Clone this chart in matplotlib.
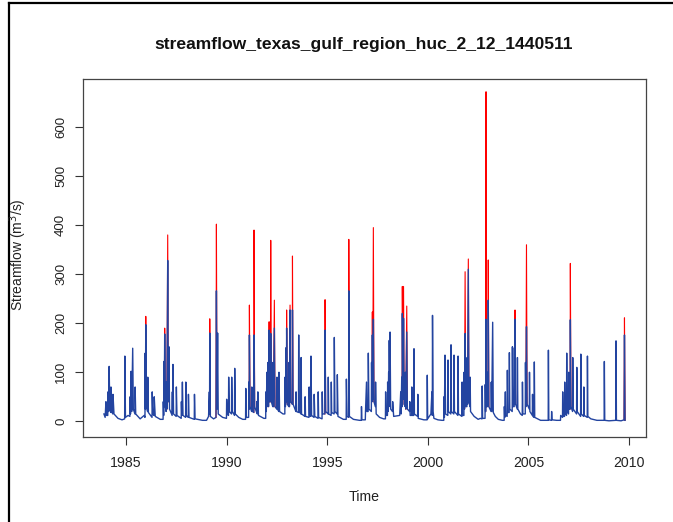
import matplotlib
matplotlib.use("Agg")
import matplotlib.pyplot as plt
from matplotlib.lines import Line2D
import numpy as np

plt.rcParams['font.family'] = ['Liberation Sans', 'DejaVu Sans']

series_points = [
    (1983.90, 15, 15), (1983.96, 8, 8), (1984.00, 40, 40), (1984.03, 12, 12),
    (1984.09, 12, 12), (1984.10, 60, 60), (1984.13, 20, 20), (1984.16, 112, 112),
    (1984.19, 25, 25), (1984.24, 18, 18), (1984.25, 70, 70), (1984.28, 20, 20),
    (1984.34, 15, 15), (1984.35, 55, 55), (1984.40, 15, 15), (1984.60, 6, 6),
    (1984.80, 3, 3), (1984.93, 5, 5), (1984.94, 133, 133), (1984.97, 8, 8),
    (1985.10, 12, 12), (1985.19, 10, 10), (1985.20, 50, 50), (1985.22, 15, 15),
    (1985.25, 102, 102), (1985.28, 20, 20), (1985.33, 149, 149), (1985.36, 25, 25),
    (1985.44, 15, 15), (1985.45, 70, 70), (1985.48, 15, 15), (1985.70, 5, 5),
    (1985.90, 12, 12), (1985.94, 8, 8), (1985.95, 139, 139), (1985.96, 25, 25),
    (1985.98, 197, 214), (1986.01, 30, 30), (1986.07, 20, 20), (1986.08, 90, 90),
    (1986.11, 18, 18), (1986.29, 8, 8), (1986.30, 60, 60), (1986.33, 15, 15),
    (1986.39, 12, 12), (1986.40, 50, 50), (1986.45, 10, 10), (1986.70, 4, 4),
    (1986.84, 4, 4), (1986.85, 40, 40), (1986.87, 12, 12), (1986.88, 122, 122),
    (1986.90, 30, 30), (1986.92, 178, 190), (1986.95, 30, 30), (1986.99, 20, 20),
    (1987.00, 80, 80), (1987.03, 25, 25), (1987.07, 328, 380), (1987.10, 40, 40),
    (1987.13, 152, 152), (1987.16, 25, 25), (1987.29, 12, 12), (1987.30, 60, 60),
    (1987.31, 20, 20), (1987.33, 116, 116), (1987.36, 15, 15), (1987.49, 10, 10),
    (1987.50, 70, 70), (1987.53, 12, 12), (1987.74, 6, 6), (1987.75, 40, 40),
    (1987.77, 12, 12), (1987.80, 80, 80), (1987.83, 12, 12), (1987.96, 8, 8),
    (1987.97, 80, 80), (1987.99, 12, 12), (1988.09, 8, 8), (1988.10, 55, 55),
    (1988.13, 8, 8), (1988.39, 4, 4), (1988.40, 55, 55), (1988.43, 5, 5),
    (1988.80, 2, 2), (1989.00, 2, 2), (1989.10, 10, 10), (1989.14, 60, 60),
    (1989.15, 15, 15), (1989.16, 180, 209), (1989.19, 10, 10), (1989.35, 5, 5),
    (1989.47, 8, 8), (1989.49, 266, 402), (1989.52, 25, 25), (1989.55, 180, 180),
    (1989.58, 15, 15), (1989.80, 8, 8), (1989.99, 6, 6), (1990.00, 45, 45),
    (1990.03, 15, 15), (1990.09, 12, 12), (1990.10, 90, 90), (1990.13, 20, 20),
    (1990.24, 15, 15), (1990.25, 90, 90), (1990.28, 20, 20), (1990.39, 12, 12),
    (1990.40, 108, 108), (1990.43, 15, 15), (1990.60, 8, 8), (1990.80, 4, 4),
    (1990.94, 4, 4), (1990.95, 67, 67), (1990.98, 8, 8), (1991.09, 8, 8),
    (1991.10, 80, 80), (1991.12, 25, 25), (1991.13, 176, 237), (1991.16, 30, 30),
    (1991.24, 20, 20), (1991.25, 70, 70), (1991.28, 20, 20), (1991.35, 18, 18),
    (1991.36, 176, 390), (1991.39, 30, 30), (1991.49, 18, 18), (1991.50, 40, 40),
    (1991.52, 15, 15), (1991.55, 60, 60), (1991.58, 12, 12), (1991.85, 6, 6),
    (1991.94, 6, 6), (1991.95, 60, 60), (1991.97, 20, 20), (1992.00, 100, 100),
    (1992.02, 30, 30), (1992.05, 120, 120), (1992.08, 30, 30), (1992.11, 186, 203),
    (1992.13, 40, 40), (1992.15, 140, 140), (1992.17, 40, 40), (1992.19, 179, 369),
    (1992.22, 40, 40), (1992.29, 30, 30), (1992.30, 120, 120), (1992.32, 30, 30),
    (1992.37, 190, 247), (1992.40, 30, 30), (1992.49, 25, 25), (1992.50, 90, 90),
    (1992.52, 25, 25), (1992.59, 20, 20), (1992.60, 100, 100), (1992.63, 20, 20),
    (1992.80, 15, 15), (1992.89, 15, 15), (1992.90, 90, 90), (1992.92, 30, 30),
    (1992.95, 150, 150), (1992.97, 40, 40), (1992.98, 190, 227), (1993.01, 35, 35),
    (1993.09, 30, 30), (1993.10, 120, 120), (1993.12, 30, 30), (1993.15, 227, 237),
    (1993.18, 40, 40), (1993.26, 35, 35), (1993.27, 227, 337), (1993.30, 35, 35),
    (1993.44, 20, 20), (1993.45, 60, 60), (1993.47, 20, 20), (1993.57, 18, 18),
    (1993.58, 176, 176), (1993.60, 20, 20), (1993.69, 15, 15), (1993.70, 130, 130),
    (1993.72, 15, 15), (1993.89, 10, 10), (1993.90, 50, 50), (1993.92, 10, 10),
    (1994.09, 8, 8), (1994.10, 70, 70), (1994.12, 12, 12), (1994.18, 10, 10),
    (1994.19, 133, 133), (1994.22, 12, 12), (1994.34, 8, 8), (1994.35, 55, 55),
    (1994.38, 10, 10), (1994.54, 6, 6), (1994.55, 60, 60), (1994.57, 8, 8),
    (1994.74, 5, 5), (1994.75, 60, 60), (1994.77, 15, 15), (1994.88, 15, 15),
    (1994.89, 186, 248), (1994.92, 20, 20), (1995.04, 15, 15), (1995.05, 90, 90),
    (1995.07, 15, 15), (1995.19, 12, 12), (1995.20, 80, 80), (1995.22, 18, 18),
    (1995.34, 15, 15), (1995.35, 171, 171), (1995.38, 20, 20), (1995.49, 15, 15),
    (1995.50, 95, 95), (1995.53, 10, 10), (1995.80, 4, 4), (1995.94, 4, 4),
    (1995.95, 86, 86), (1995.98, 10, 10), (1996.06, 8, 8), (1996.07, 266, 371),
    (1996.10, 10, 10), (1996.30, 4, 4), (1996.60, 2, 2), (1996.69, 2, 2),
    (1996.70, 30, 30), (1996.72, 3, 3), (1996.89, 3, 3), (1996.90, 20, 20),
    (1996.95, 80, 80), (1996.97, 20, 20), (1997.03, 20, 20), (1997.04, 139, 139),
    (1997.07, 25, 25), (1997.19, 20, 20), (1997.20, 120, 120), (1997.22, 40, 40),
    (1997.24, 176, 223), (1997.26, 45, 45), (1997.29, 208, 395), (1997.32, 40, 40),
    (1997.39, 30, 30), (1997.40, 80, 80), (1997.43, 15, 15), (1997.60, 8, 8),
    (1997.80, 5, 5), (1997.89, 5, 5), (1997.90, 60, 60), (1997.92, 12, 12),
    (1997.99, 12, 12), (1998.00, 80, 80), (1998.02, 20, 20), (1998.05, 100, 100),
    (1998.07, 30, 30), (1998.08, 165, 165), (1998.10, 35, 35), (1998.12, 182, 182),
    (1998.15, 25, 25), (1998.24, 20, 20), (1998.25, 40, 40), (1998.30, 10, 10),
    (1998.60, 12, 12), (1998.65, 60, 60), (1998.67, 15, 15), (1998.70, 90, 90),
    (1998.72, 30, 30), (1998.73, 220, 275), (1998.76, 45, 45), (1998.79, 210, 275),
    (1998.82, 35, 35), (1998.87, 30, 30), (1998.88, 100, 100), (1998.90, 25, 25),
    (1998.95, 182, 235), (1998.98, 25, 25), (1999.09, 20, 20), (1999.10, 40, 40),
    (1999.12, 12, 12), (1999.19, 12, 12), (1999.20, 70, 70), (1999.22, 12, 12),
    (1999.30, 12, 12), (1999.31, 148, 148), (1999.33, 15, 15), (1999.49, 10, 10),
    (1999.50, 55, 55), (1999.52, 6, 6), (1999.80, 3, 3), (1999.96, 3, 3),
    (1999.97, 94, 94), (1999.99, 5, 5), (2000.15, 15, 15), (2000.20, 60, 60),
    (2000.22, 12, 12), (2000.23, 216, 216), (2000.26, 20, 20), (2000.30, 6, 6),
    (2000.50, 3, 3), (2000.70, 2, 2), (2000.79, 2, 2), (2000.80, 50, 50),
    (2000.82, 8, 8), (2000.85, 135, 135), (2000.88, 15, 15), (2000.99, 12, 12),
    (2001.00, 125, 125), (2001.02, 20, 20), (2001.14, 15, 15), (2001.15, 156, 156),
    (2001.17, 20, 20), (2001.29, 15, 15), (2001.30, 135, 135), (2001.32, 20, 20),
    (2001.49, 12, 12), (2001.50, 133, 133), (2001.52, 15, 15), (2001.69, 10, 10),
    (2001.70, 80, 80), (2001.72, 12, 12), (2001.79, 12, 12), (2001.80, 100, 100),
    (2001.82, 25, 25), (2001.85, 179, 305), (2001.88, 30, 30), (2001.94, 30, 30),
    (2001.95, 130, 130), (2001.97, 35, 35), (2002.01, 310, 331), (2002.04, 40, 40),
    (2002.09, 30, 30), (2002.10, 90, 90), (2002.12, 20, 20), (2002.30, 10, 10),
    (2002.50, 4, 4), (2002.60, 6, 6), (2002.69, 5, 5), (2002.70, 72, 72),
    (2002.72, 6, 6), (2002.84, 6, 6), (2002.85, 75, 75), (2002.87, 20, 20),
    (2002.89, 208, 672), (2002.91, 30, 30), (2002.96, 30, 30), (2002.97, 100, 100),
    (2002.99, 35, 35), (2003.00, 247, 329), (2003.03, 30, 30), (2003.14, 20, 20),
    (2003.15, 80, 80), (2003.17, 20, 20), (2003.22, 202, 202), (2003.25, 18, 18),
    (2003.35, 10, 10), (2003.50, 4, 4), (2003.70, 2, 2), (2003.79, 2, 2),
    (2003.80, 30, 30), (2003.82, 8, 8), (2003.85, 60, 60), (2003.87, 12, 12),
    (2003.94, 10, 10), (2003.95, 104, 104), (2003.97, 18, 18), (2004.04, 18, 18),
    (2004.05, 140, 140), (2004.07, 25, 25), (2004.19, 20, 20), (2004.20, 152, 152),
    (2004.22, 30, 30), (2004.29, 30, 30), (2004.30, 150, 150), (2004.31, 35, 35),
    (2004.33, 208, 227), (2004.36, 35, 35), (2004.44, 25, 25), (2004.45, 130, 130),
    (2004.47, 25, 25), (2004.60, 15, 15), (2004.69, 12, 12), (2004.70, 80, 80),
    (2004.72, 15, 15), (2004.84, 15, 15), (2004.85, 120, 120), (2004.87, 30, 30),
    (2004.90, 193, 360), (2004.93, 35, 35), (2005.04, 25, 25), (2005.05, 100, 100),
    (2005.07, 20, 20), (2005.19, 12, 12), (2005.20, 55, 55), (2005.22, 10, 10),
    (2005.28, 8, 8), (2005.29, 121, 121), (2005.31, 8, 8), (2005.45, 5, 5),
    (2005.60, 2, 2), (2005.80, 2, 2), (2005.98, 2, 2), (2005.99, 145, 145),
    (2006.01, 3, 3), (2006.14, 2, 2), (2006.15, 20, 20), (2006.17, 3, 3),
    (2006.40, 2, 2), (2006.59, 2, 2), (2006.60, 12, 12), (2006.69, 8, 8),
    (2006.70, 60, 60), (2006.72, 10, 10), (2006.79, 10, 10), (2006.80, 80, 80),
    (2006.82, 15, 15), (2006.89, 12, 12), (2006.90, 139, 139), (2006.92, 20, 20),
    (2006.99, 15, 15), (2007.00, 100, 100), (2007.02, 25, 25), (2007.07, 25, 25),
    (2007.08, 207, 322), (2007.11, 30, 30), (2007.19, 20, 20), (2007.20, 130, 130),
    (2007.22, 25, 25), (2007.39, 15, 15), (2007.40, 110, 110), (2007.42, 20, 20),
    (2007.59, 10, 10), (2007.60, 137, 137), (2007.62, 15, 15), (2007.74, 10, 10),
    (2007.75, 70, 70), (2007.77, 12, 12), (2007.92, 8, 8), (2007.93, 133, 133),
    (2007.95, 10, 10), (2008.10, 5, 5), (2008.40, 2, 2), (2008.76, 2, 2),
    (2008.77, 122, 122), (2008.79, 2, 2), (2009.00, 1, 1), (2009.30, 2, 2),
    (2009.34, 2, 2), (2009.35, 164, 164), (2009.37, 2, 2), (2009.60, 1, 1),
    (2009.75, 3, 3), (2009.77, 176, 211), (2009.80, 2, 2),
]
time = np.array([p[0] for p in series_points])
simulated = np.array([p[1] for p in series_points], dtype=float)
observed = np.array([p[2] for p in series_points], dtype=float)

x_ticks = [1985, 1990, 1995, 2000, 2005, 2010]
y_ticks = [0, 100, 200, 300, 400, 500, 600]

title = "streamflow_texas_gulf_region_huc_2_12_1440511"

# observed line is hidden under the simulated one where both agree
differs = observed != simulated
keep = differs | np.roll(differs, 1) | np.roll(differs, -1)
observed_visible = np.where(keep, observed, np.nan)

fig = plt.figure(figsize=(6.73, 5.22), dpi=100)
ax = fig.add_axes([83/673, 1-437/522, (646-83)/673, (437-79)/522])

ax.plot(time, observed_visible, color='#ff0000', lw=0.8)
ax.plot(time, simulated, color='#2344a0', lw=1.0)

ax.set_xlim(1982.86, 2010.84)
ax.set_ylim(-32, 698)
ax.set_xticks(x_ticks)
ax.set_yticks(y_ticks)
ax.set_yticklabels([str(v) for v in y_ticks], rotation=90, va='center')
ax.tick_params(axis='both', direction='out', length=5.5, width=0.8,
               color='#333333', labelcolor='#222222')
ax.tick_params(axis='x', labelsize=10.2, pad=8)
ax.tick_params(axis='y', labelsize=9.5, pad=6)
for s in ax.spines.values():
    s.set_color('#444444')
    s.set_linewidth(0.9)

fig.text(364/673, 1-44/522, title, ha='center', va='center',
         fontsize=12.6, fontweight='bold', color='#111111')
fig.text(364/673, 1-497/522, "Time", ha='center', va='center',
         fontsize=10.2, color='#222222')
fig.text(18/673, 1-255/522, "Streamflow (m$^3$/s)", ha='center', va='center',
         rotation=90, fontsize=10, color='#222222')

# screenshot border
fig.add_artist(Line2D([9/673, 9/673], [0, 1-3/522], transform=fig.transFigure,
                      color='black', lw=1.6))
fig.add_artist(Line2D([9/673, 1], [1-3/522, 1-3/522], transform=fig.transFigure,
                      color='black', lw=1.6))

fig.savefig("out.png", dpi=100)
